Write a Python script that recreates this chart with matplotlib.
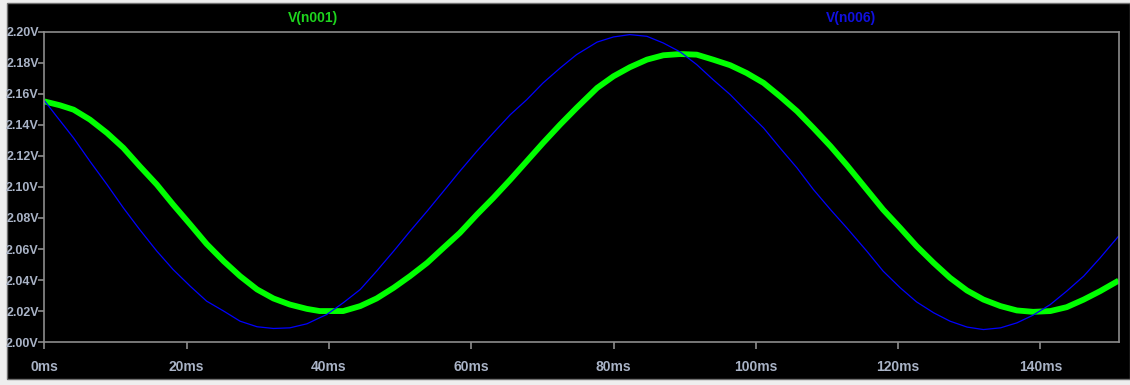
import matplotlib.pyplot as plt
from matplotlib.patches import Rectangle

# time (ms) and voltage (V)
t_n001 = [0.0, 2.2, 4.1, 6.4, 8.8, 11.1, 13.4, 15.8, 18.1, 20.5, 22.8, 25.2, 27.5,
          29.9, 32.2, 34.5, 36.9, 38.7, 42.0, 44.4, 46.7, 49.1, 51.4, 53.8, 56.1,
          58.4, 60.8, 63.1, 65.5, 67.8, 70.1, 72.5, 74.8, 77.7, 80.0, 82.3, 84.7,
          87.0, 89.4, 91.7, 94.0, 96.4, 98.7, 101.1, 103.4, 105.8, 108.1, 110.5,
          112.8, 115.6, 117.9, 120.3, 122.6, 125.0, 127.3, 129.7, 132.0, 134.4,
          136.7, 139.0, 141.4, 143.7, 146.1, 148.4, 151.0]
v_n001 = [2.155, 2.1525, 2.1497, 2.1433, 2.1347, 2.1251, 2.1133, 2.1015, 2.0886,
          2.0758, 2.0633, 2.0522, 2.0426, 2.0340, 2.0282, 2.0243, 2.0215, 2.0201,
          2.0201, 2.0233, 2.0282, 2.0351, 2.0426, 2.0511, 2.0608, 2.0704, 2.0822,
          2.0929, 2.1047, 2.1165, 2.1283, 2.1401, 2.1508, 2.1637, 2.1712, 2.1770,
          2.1819, 2.1847, 2.1855, 2.1851, 2.1819, 2.1783, 2.1733, 2.1669, 2.1583,
          2.1487, 2.1379, 2.1262, 2.1140, 2.0983, 2.0854, 2.0736, 2.0619, 2.0511,
          2.0415, 2.0333, 2.0275, 2.0233, 2.0205, 2.0196, 2.0201, 2.0226, 2.0275,
          2.0329, 2.0397]

t_n006 = [0.0, 1.7, 4.1, 6.4, 8.8, 11.1, 13.4, 15.8, 18.1, 20.5, 22.8, 25.2, 27.5,
          29.9, 32.2, 34.5, 36.9, 38.7, 39.7, 42.0, 44.4, 46.7, 49.1, 51.4, 53.8,
          56.1, 58.4, 60.8, 63.1, 65.5, 67.8, 70.1, 72.5, 74.8, 77.7, 80.0, 82.3,
          84.7, 87.0, 89.4, 91.7, 94.0, 96.4, 98.7, 101.1, 103.4, 105.8, 108.1,
          110.5, 112.8, 115.6, 117.9, 120.3, 122.6, 125.0, 127.3, 129.7, 132.0,
          134.4, 136.7, 139.0, 141.4, 143.7, 146.1, 148.4, 151.0]
v_n006 = [2.1555, 2.1455, 2.1315, 2.1165, 2.1015, 2.0865, 2.0725, 2.0587, 2.0468,
          2.0361, 2.0265, 2.0201, 2.0136, 2.0100, 2.0089, 2.0093, 2.0119, 2.0158,
          2.0179, 2.0254, 2.0340, 2.0458, 2.0587, 2.0715, 2.0844, 2.0972, 2.1101,
          2.1230, 2.1347, 2.1465, 2.1561, 2.1669, 2.1765, 2.1851, 2.1932, 2.1965,
          2.1980, 2.1969, 2.1926, 2.1868, 2.1787, 2.1690, 2.1594, 2.1487, 2.1379,
          2.1251, 2.1122, 2.0983, 2.0854, 2.0736, 2.0587, 2.0458, 2.0351, 2.0260,
          2.0190, 2.0136, 2.0098, 2.0082, 2.0093, 2.0125, 2.0175, 2.0243, 2.0329,
          2.0426, 2.0543, 2.0683]

x_ticks = [0, 20, 40, 60, 80, 100, 120, 140]
y_ticks = [2.00, 2.02, 2.04, 2.06, 2.08, 2.10, 2.12, 2.14, 2.16, 2.18, 2.20]

plt.rcParams['font.family'] = ['Liberation Sans', 'DejaVu Sans']

fig = plt.figure(figsize=(11.3, 3.85), dpi=100, facecolor='#eeeeee')
# black window background behind the axes
fig.patches.append(Rectangle((7 / 1130, 6 / 385), 1123 / 1130, 376 / 385,
                             transform=fig.transFigure, facecolor='black',
                             edgecolor='#707070', lw=1, zorder=-1))

ax = fig.add_axes([44.4 / 1130, 42.7 / 385, 1074.9 / 1130, 310.8 / 385])
ax.set_facecolor('black')

ax.plot(t_n001, v_n001, color='#00ff00', lw=4.2, solid_capstyle='butt')
ax.plot(t_n006, v_n006, color='#0000ff', lw=0.9)

ax.set_xlim(0, 151.1)
ax.set_ylim(2.00, 2.20)
ax.set_xticks(x_ticks)
ax.set_xticklabels([f"{x}ms" for x in x_ticks])
ax.set_yticks(y_ticks)
ax.set_yticklabels([f"{y:.2f}V" for y in y_ticks])

for s in ax.spines.values():
    s.set_color('#8c8c8c')
    s.set_linewidth(1.2)
ax.tick_params(colors='#8c8c8c', width=1.2, labelcolor='#a9b3c6')
ax.tick_params(axis='y', length=4, pad=0, labelsize=9)
ax.tick_params(axis='x', length=5, pad=8, labelsize=10)
for lbl in ax.get_xticklabels() + ax.get_yticklabels():
    lbl.set_fontweight('bold')

fig.text(313 / 1130, 1 - 18 / 385, "V(n001)", color='#1ed41e', ha='center',
         va='center', fontsize=10, fontweight='bold')
fig.text(851 / 1130, 1 - 18 / 385, "V(n006)", color='#1010e0', ha='center',
         va='center', fontsize=10, fontweight='bold')

fig.savefig('out.png', dpi=100, facecolor=fig.get_facecolor())
